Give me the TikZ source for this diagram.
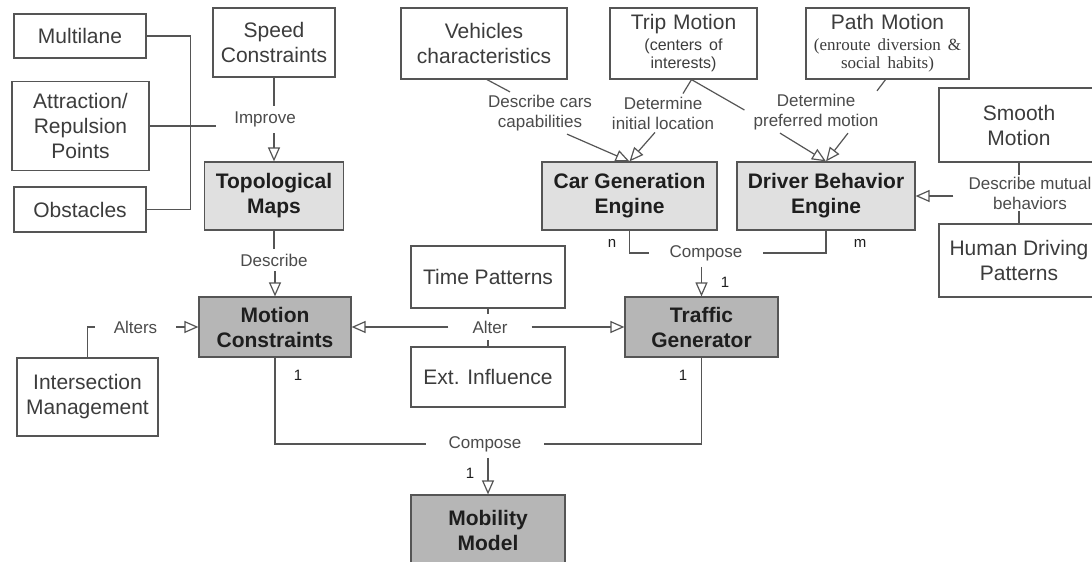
\documentclass[tikz,border=0pt]{standalone}
\usepackage{fontspec}
\setmainfont{Liberation Sans}
\newfontfamily\seriffam{Liberation Serif}
\usetikzlibrary{arrows.meta,calc}
\definecolor{lc}{RGB}{85,85,85}
\definecolor{tc}{RGB}{60,60,60}
\definecolor{btc}{RGB}{30,30,30}
\definecolor{labc}{RGB}{75,75,75}
\definecolor{lfill}{RGB}{224,224,224}
\definecolor{dfill}{RGB}{182,182,182}
\begin{document}
\begin{tikzpicture}[x=1pt,y=-1pt,
  box/.style={draw=lc, line width=1.2pt, align=center, inner sep=0pt, text=tc,
    font=\fontsize{21}{25}\selectfont},
  lbox/.style={box, fill=lfill, text=btc, font=\fontsize{21}{25}\selectfont\bfseries},
  dbox/.style={lbox, fill=dfill},
  lab/.style={align=center, text=labc, inner xsep=6pt, inner ysep=5pt,
    font=\fontsize{17}{20}\selectfont},
  con/.style={draw=lc, line width=1.2pt},
  arr/.style={con, -{Triangle[open, length=14pt, width=12pt]}},
  num/.style={text=btc, inner sep=0pt, font=\fontsize{15}{18}\selectfont}
]
\useasboundingbox (0,0) rectangle (1092,562);
\clip (0,0) rectangle (1092,562);
\fill[white] (0,0) rectangle (1092,562);

% boxes
\node[box, minimum width=132, minimum height=44] (multi) at (80,36) {Multilane};
\node[box, minimum width=137, minimum height=89] (attr) at (80.5,126) {Attraction/\\Repulsion\\Points};
\node[box, minimum width=132, minimum height=45] (obst) at (80,209.5) {Obstacles};
\node[box, minimum width=122, minimum height=69] (speed) at (274,42.5) {Speed\\Constraints};
\node[lbox, minimum width=139, minimum height=68] (topo) at (274,196) {Topological\\Maps};
\node[box, minimum width=166, minimum height=71] (vehic) at (484,43.5) {Vehicles\\characteristics};
\node[box, minimum width=147, minimum height=71, text width=145pt] (trip) at (683.5,43.5)
  {\centering Trip Motion\par\vspace{3pt}{\fontsize{16}{18}\selectfont (centers of\\ interests)\par}};
\node[box, minimum width=163, minimum height=71, text width=161pt] (path) at (887.5,43.5)
  {\centering Path Motion\par\vspace{3pt}{\seriffam\fontsize{17}{18}\selectfont (enroute diversion \&\\ social habits)\par}};
\node[box, minimum width=160, minimum height=74] (smooth) at (1019,125) {Smooth\\Motion};
\node[box, minimum width=160, minimum height=73] (human) at (1019,260.5) {Human Driving\\Patterns};
\node[lbox, minimum width=175, minimum height=68] (car) at (629.5,196) {Car Generation\\Engine};
\node[lbox, minimum width=178, minimum height=68] (driver) at (826,196) {Driver Behavior\\Engine};
\node[box, minimum width=154, minimum height=62] (time) at (488,277) {Time Patterns};
\node[box, minimum width=154, minimum height=60] (ext) at (488,377) {Ext. Influence};
\node[dbox, minimum width=153, minimum height=60] (traffic) at (701.5,327) {Traffic\\Generator};
\node[dbox, minimum width=152, minimum height=60] (motion) at (275,327) {Motion\\Constraints};
\node[box, minimum width=141, minimum height=78] (inter) at (87.5,397) {Intersection\\Management};
\node[dbox, minimum width=154, minimum height=70] (mobility) at (488,530) {Mobility\\Model};

% labels
\node[lab, inner xsep=18pt, inner ysep=6pt] (improve) at (265,119.5) {Improve};
\node[lab] (describe) at (274,260) {Describe};
\node[lab, inner xsep=19pt] (alters) at (135.5,327) {Alters};
\node[lab, inner xsep=24pt, inner ysep=7pt] (alter) at (490,327) {Alter};
\node[lab, inner xsep=20pt, inner ysep=6pt] (comp1) at (706,253) {Compose};
\node[lab, inner xsep=22pt, inner ysep=6pt] (comp2) at (485,444) {Compose};
\node[lab, inner sep=3pt] (dcc) at (540,113) {Describe cars\\capabilities};
\node[lab, inner sep=3pt] (dil) at (663,113) {Determine\\initial location};
\node[lab, inner sep=3pt] (dpm) at (816,112) {Determine\\preferred motion};
\node[lab, inner xsep=15pt, inner ysep=2pt] (dmb) at (1030,193) {Describe mutual\\behaviors};

% multiplicities
\node[num] (nn) at (612,243) {n};
\node[num] (mm) at (860,243) {m};
\node[num] (one1) at (725,282) {1};
\node[num] (one2) at (298,375) {1};
\node[num] (one3) at (683,375) {1};
\node[num] (one4) at (470,473) {1};

% connectors
\draw[con] (multi.east) -- ++(44,0) |- (obst.east);
\draw[con] (attr.east) -- (attr.east -| improve.west);
\draw[con] (speed.south) -- (speed.south |- improve.north);
\draw[arr] (topo.north |- improve.south) -- (topo.north);

\draw[con] (topo.south) -- (topo.south |- describe.north);
\draw[arr] (motion.north |- describe.south) -- (motion.north);

\draw[con] (inter.north) |- (alters.west);
\draw[arr] (alters.east) -- (motion.west);

\draw[con] (time.south) -- (time.south |- alter.north);
\draw[con] (ext.north) -- (ext.north |- alter.south);
\draw[arr] (alter.west) -- (motion.east);
\draw[arr] (alter.east) -- (traffic.west);

\draw[con] (car.south) |- (comp1.west);
\draw[con] (driver.south) |- (comp1.east);
\draw[arr] (traffic.north |- comp1.south) -- (traffic.north);

\draw[con] (motion.south) |- (comp2.west);
\draw[con] (traffic.south) |- (comp2.east);
\draw[arr] (mobility.north |- comp2.south) -- (mobility.north);

\draw[con] ($(vehic.south)+(3,0)$) -- ($(dcc.north)+(-30,0)$);
\draw[arr] ($(dcc.south)+(27,0)$) -- (car.north);
\draw[con] ($(trip.south)+(8,0)$) -- ($(dil.north)+(20,0)$);
\draw[arr] ($(dil.south)+(-8,0)$) -- (car.north);
\draw[con] ($(trip.south)+(8,0)$) -- ($(dpm.west)+(-6,-2)$);
\draw[arr] ($(dpm.south)+(-36,0)$) -- (driver.north);
\draw[con] ($(path.south)+(-2,0)$) -- ($(dpm.north)+(61,0)$);
\draw[arr] ($(dpm.south)+(32,0)$) -- (driver.north);

\draw[con] (smooth.south) -- (smooth.south |- dmb.north);
\draw[con] (human.north) -- (human.north |- dmb.south);
\draw[arr] (driver.east -| dmb.west) -- (driver.east);
\end{tikzpicture}
\end{document}
